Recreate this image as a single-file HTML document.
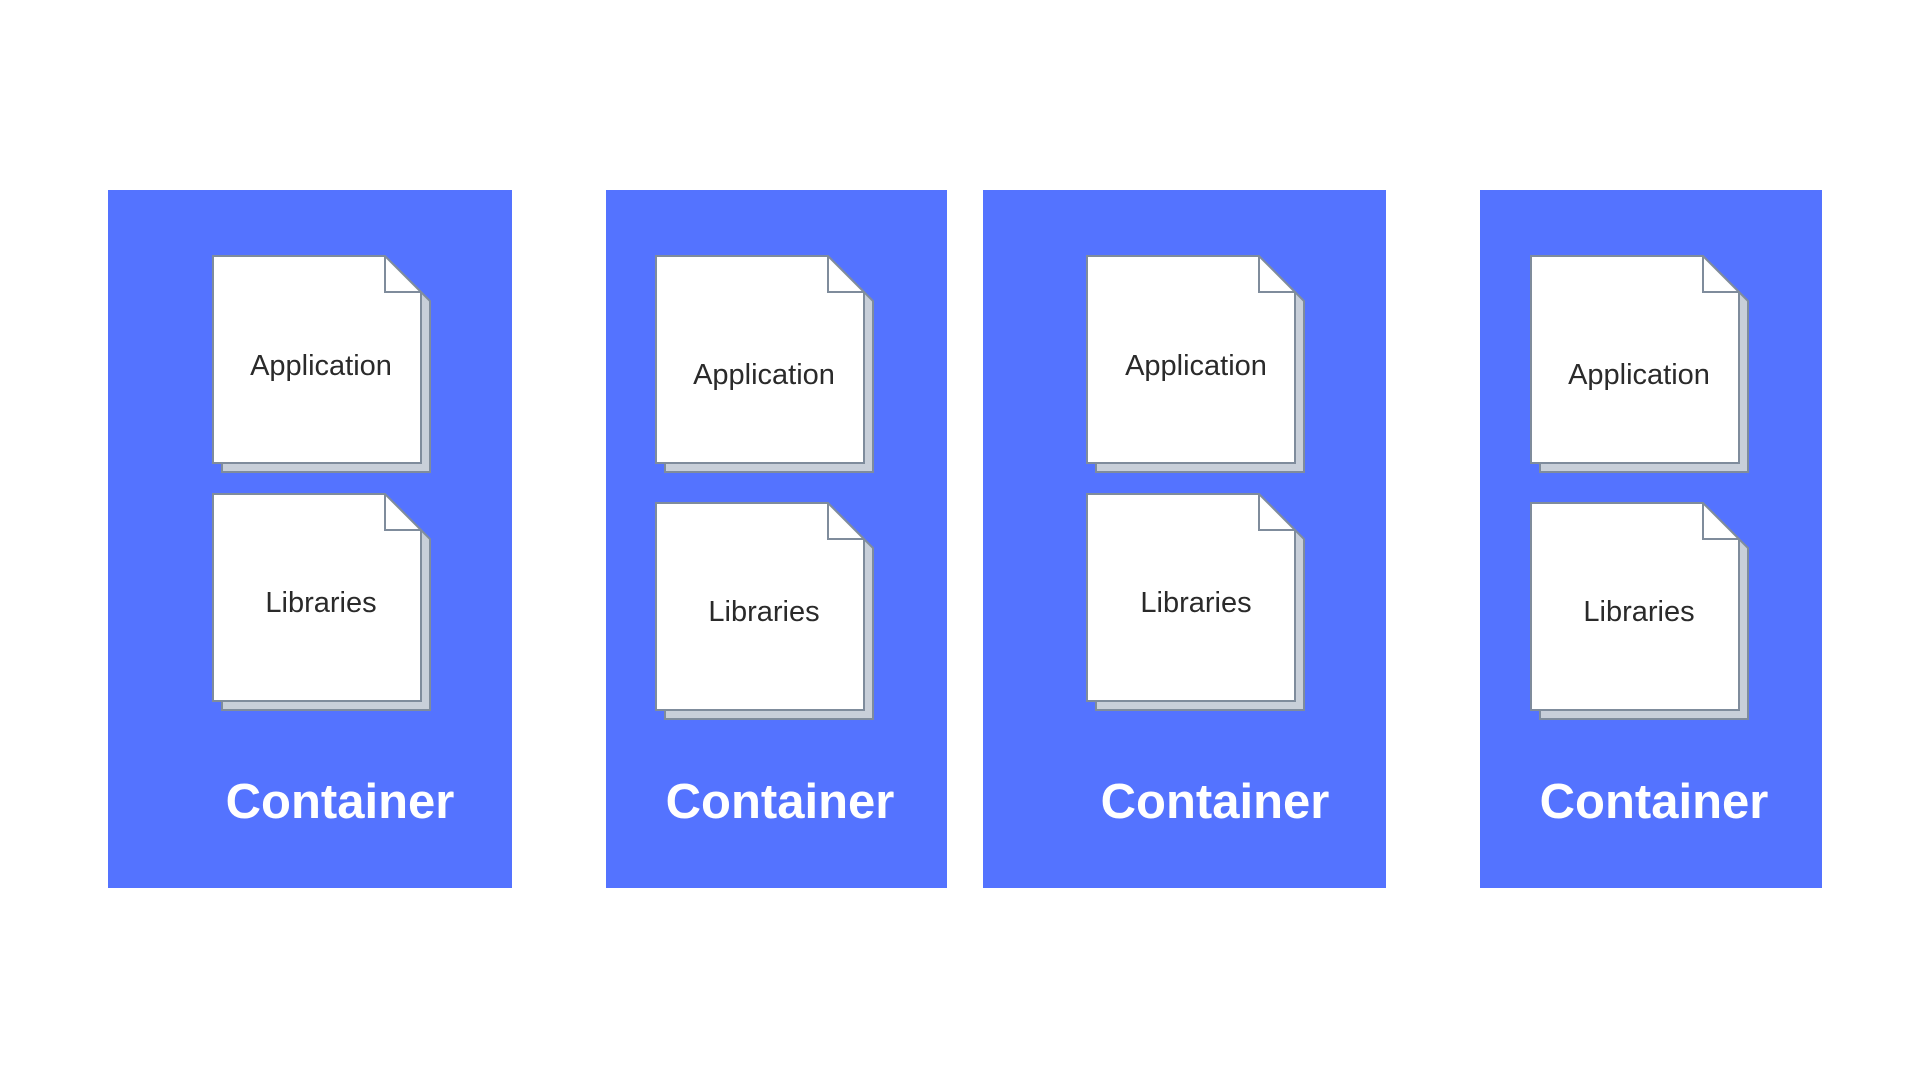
<!DOCTYPE html>
<html><head><meta charset="utf-8"><style>html,body{margin:0;padding:0;background:#fff;width:1920px;height:1080px;overflow:hidden}</style></head>
<body>
<svg width="1920" height="1080" viewBox="0 0 1920 1080" xmlns="http://www.w3.org/2000/svg">
<defs>
<g id="doc">
<path d="M9 9 H181 L217 45 V216 H9 Z" fill="#c8cfd9" stroke="#7f8c9c" stroke-width="2"/>
<path d="M0 0 H172 L208 36 V207 H0 Z" fill="#fff" stroke="#7f8c9c" stroke-width="2"/>
<path d="M172 0 V36 H208" fill="none" stroke="#7f8c9c" stroke-width="2"/>
</g>
</defs>
<g fill="#5473ff">
<rect x="108" y="190" width="404" height="698"/>
<rect x="606" y="190" width="341" height="698"/>
<rect x="983" y="190" width="403" height="698"/>
<rect x="1480" y="190" width="342" height="698"/>
</g>
<use href="#doc" x="213" y="256"/>
<use href="#doc" x="213" y="494"/>
<use href="#doc" x="656" y="256"/>
<use href="#doc" x="656" y="503"/>
<use href="#doc" x="1087" y="256"/>
<use href="#doc" x="1087" y="494"/>
<use href="#doc" x="1531" y="256"/>
<use href="#doc" x="1531" y="503"/>
<g font-family="Liberation Sans, sans-serif" font-size="29" fill="#2a2a2a" text-anchor="middle">
<text x="321" y="375">Application</text>
<text x="321" y="612">Libraries</text>
<text x="764" y="384">Application</text>
<text x="764" y="621">Libraries</text>
<text x="1196" y="375">Application</text>
<text x="1196" y="612">Libraries</text>
<text x="1639" y="384">Application</text>
<text x="1639" y="621">Libraries</text>
</g>
<g font-family="Liberation Sans, sans-serif" font-size="49" font-weight="bold" fill="#fff" text-anchor="middle">
<text x="340" y="818">Container</text>
<text x="780" y="818">Container</text>
<text x="1215" y="818">Container</text>
<text x="1654" y="818">Container</text>
</g>
</svg>
</body></html>
